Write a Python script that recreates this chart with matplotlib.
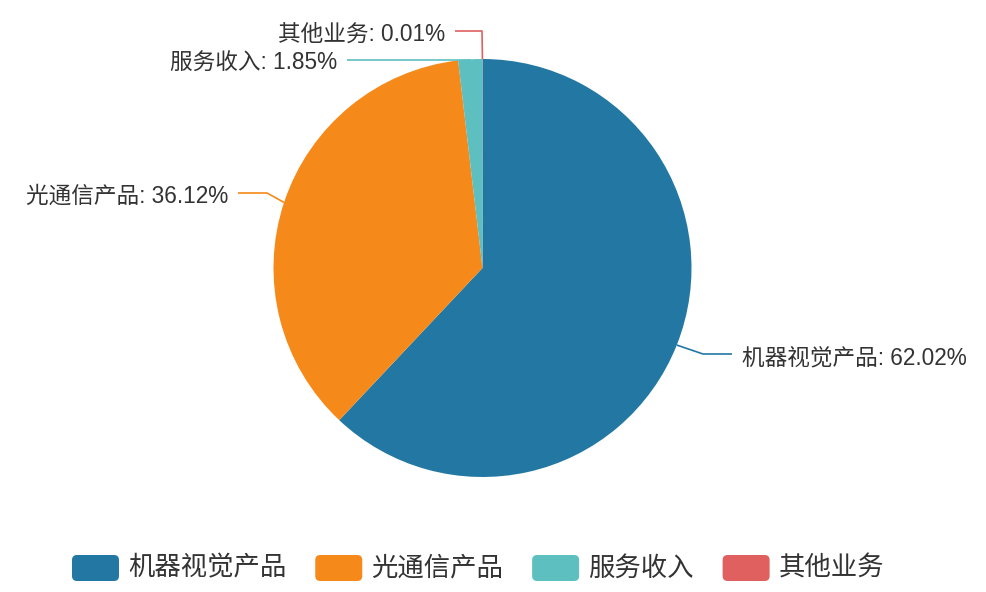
import matplotlib
matplotlib.use("Agg")
import matplotlib.pyplot as plt
import numpy as np
from matplotlib.patches import FancyBboxPatch

plt.rcParams['font.family'] = ['Liberation Sans', 'Noto Sans CJK SC', 'DejaVu Sans']

# data
categories = ['机器视觉产品', '光通信产品', '服务收入', '其他业务']
shares = [62.02, 36.12, 1.85, 0.01]
colors = ['#2377a3', '#f58a1a', '#5dbfbf', '#e06060']

W, H = 986, 592
cx, cy, R = 482.5, 268, 209

# label layout (pixels, y downwards): elbow point, line end
elbows = [(703, 354), (267, 193), (470, 60), (482, 31)]
line_ends = [(732, 354), (238, 193), (347, 60), (455, 31)]

fig = plt.figure(figsize=(W / 100, H / 100), dpi=100)
ax = fig.add_axes([0, 0, 1, 1])

wedges, _ = ax.pie(shares, colors=colors, startangle=90, counterclock=False,
                   center=(cx, H - cy), radius=R,
                   wedgeprops=dict(linewidth=0))
ax.set_xlim(0, W)
ax.set_ylim(0, H)
ax.set_aspect('equal')
ax.axis('off')

for w, name, val, col, el, en in zip(wedges, categories, shares, colors, elbows, line_ends):
    mid = np.deg2rad((w.theta1 + w.theta2) / 2)
    x0 = cx + R * np.cos(mid)
    y0 = (H - cy) + R * np.sin(mid)
    xs = [x0, el[0], en[0]]
    ys = [y0, H - el[1], H - en[1]]
    ax.plot(xs, ys, color=col, lw=1.2, solid_capstyle='butt')
    right = en[0] > el[0]
    ax.text(en[0] + (10 if right else -10), H - en[1] - 1, f'{name}: {val:.2f}%',
            ha='left' if right else 'right', va='center_baseline',
            fontsize=16.3, color='#333333')

# legend
fig.canvas.draw()
renderer = fig.canvas.get_renderer()
x = 72
box_w, box_h, ly = 47, 26, H - 568
for name, col in zip(categories, colors):
    ax.add_patch(FancyBboxPatch((x, ly - box_h / 2), box_w, box_h,
                                boxstyle='round,pad=0,rounding_size=5',
                                facecolor=col, edgecolor='none'))
    t = ax.text(x + box_w + 9, ly, name, ha='left', va='center',
                fontsize=19, color='#333333')
    tw = t.get_window_extent(renderer).width
    x = x + box_w + 9 + tw + 29

fig.savefig('out.png', dpi=100, facecolor='white')
